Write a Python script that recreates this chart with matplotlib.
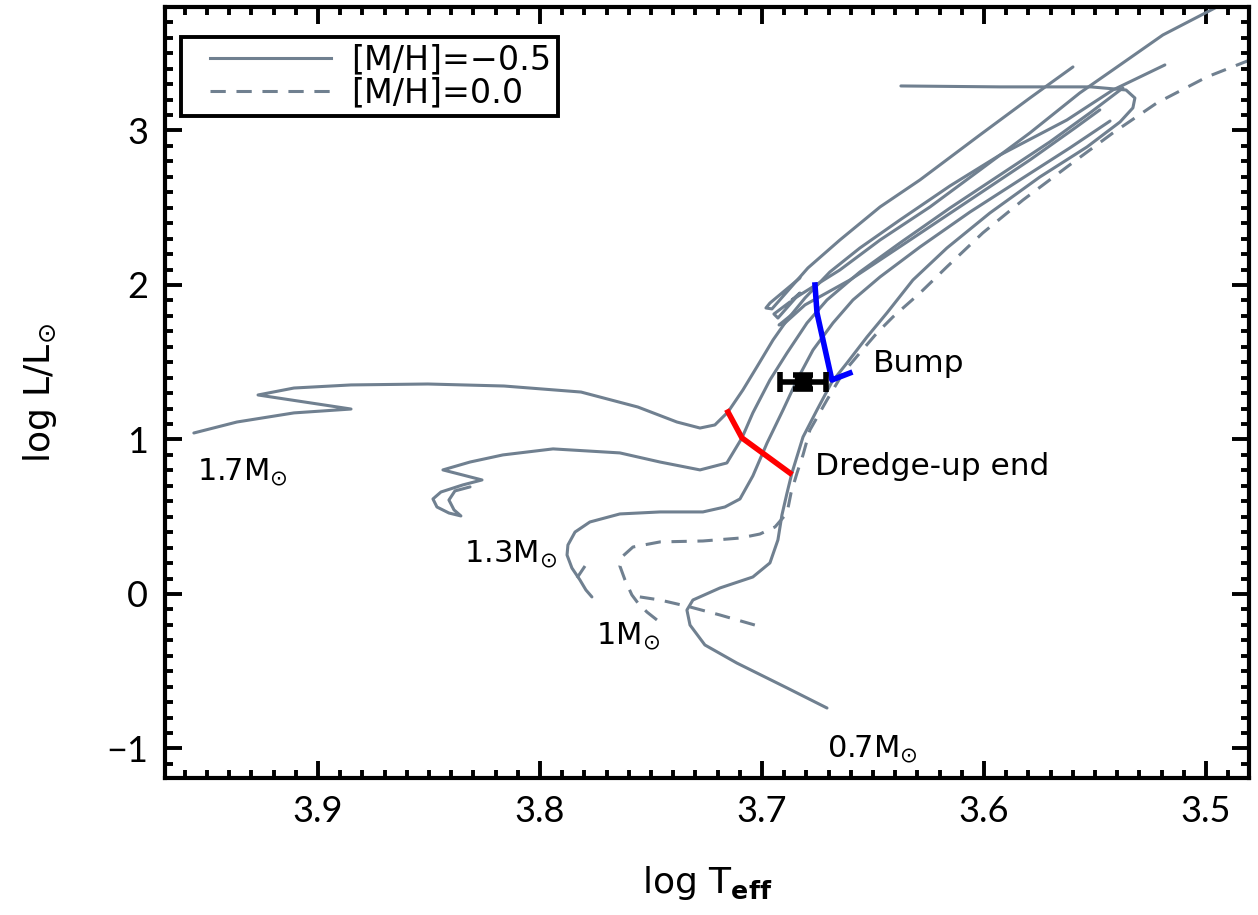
import matplotlib
matplotlib.use('Agg')
import numpy as np
import matplotlib.pyplot as plt
from matplotlib.ticker import MultipleLocator
from matplotlib.lines import Line2D
from matplotlib.legend_handler import HandlerLine2D

plt.rcParams['font.family'] = ['DejaVu Sans']
plt.rcParams['mathtext.fontset'] = 'dejavusans'

# ── tracks, [M/H] = -0.5 (solid) ────────────────────────────────────────────
t17_T = [3.9559, 3.9365, 3.9108, 3.8851, 3.9270, 3.9108, 3.8851, 3.8505, 3.8162,
         3.7815, 3.7559, 3.7383, 3.7279, 3.7212, 3.7153, 3.7086, 3.7023, 3.6950,
         3.6887, 3.6806, 3.6694, 3.6559, 3.6378, 3.6153, 3.5928, 3.5626, 3.5419,
         3.5185]
t17_L = [1.042, 1.113, 1.172, 1.197, 1.288, 1.333, 1.353, 1.359, 1.346,
         1.307, 1.210, 1.113, 1.074, 1.094, 1.178, 1.320, 1.469, 1.644,
         1.773, 1.916, 2.084, 2.239, 2.421, 2.641, 2.841, 3.068, 3.262,
         3.424]

t13_T = [3.8315, 3.8383, 3.8410, 3.8387, 3.8356, 3.8410, 3.8464, 3.8482, 3.8446,
         3.8347, 3.8261, 3.8437, 3.8315, 3.8167, 3.7941, 3.7640, 3.7459, 3.7279,
         3.7158, 3.7090, 3.7041, 3.6964, 3.6887, 3.6797, 3.6707, 3.6559, 3.6378,
         3.6153, 3.5928, 3.5703, 3.5523, 3.5374]
t13_L = [0.693, 0.667, 0.608, 0.544, 0.505, 0.524, 0.563, 0.615, 0.660,
         0.706, 0.738, 0.803, 0.854, 0.900, 0.939, 0.913, 0.854, 0.803,
         0.848, 1.010, 1.172, 1.385, 1.560, 1.754, 1.903, 2.084, 2.272,
         2.498, 2.712, 2.926, 3.113, 3.275]

t10_T = [3.7766, 3.7793, 3.7820, 3.7856, 3.7878, 3.7874, 3.7842, 3.7775, 3.7640,
         3.7459, 3.7266, 3.7167, 3.7099, 3.7041, 3.6977, 3.6905, 3.6842, 3.6770,
         3.6680, 3.6590, 3.6468, 3.6288, 3.6063, 3.5838, 3.5613, 3.5432]
t10_L = [-0.019, 0.026, 0.091, 0.168, 0.252, 0.317, 0.401, 0.466, 0.518,
         0.531, 0.531, 0.563, 0.615, 0.764, 0.977, 1.191, 1.385, 1.579,
         1.754, 1.903, 2.052, 2.246, 2.472, 2.680, 2.887, 3.061]

t07_T = [3.6707, 3.6887, 3.7113, 3.7257, 3.7324, 3.7338, 3.7311, 3.7189, 3.7041,
         3.6964, 3.6928, 3.6910, 3.6887, 3.6865, 3.6815, 3.6752, 3.6685, 3.6617,
         3.6527, 3.6437, 3.6320, 3.6167, 3.5973, 3.5748, 3.5536, 3.5387, 3.5329,
         3.5320, 3.5360, 3.5518, 3.5928, 3.6374]
t07_L = [-0.738, -0.608, -0.447, -0.330, -0.201, -0.104, -0.039, 0.039, 0.110,
         0.201, 0.350, 0.511, 0.654, 0.783, 1.016, 1.191, 1.372, 1.495,
         1.663, 1.819, 2.032, 2.239, 2.466, 2.699, 2.893, 3.055, 3.146,
         3.210, 3.262, 3.282, 3.282, 3.288]

# core-He burning clump + AGB pieces
hbA_T = [3.6829, 3.6964, 3.6982, 3.6955, 3.6793, 3.6649, 3.6468, 3.6288, 3.6018,
         3.5793, 3.5599]
hbA_L = [2.045, 1.883, 1.851, 1.845, 2.110, 2.291, 2.505, 2.680, 2.971, 3.210, 3.411]
hbB_T = [3.6874, 3.6946, 3.6928, 3.6829, 3.6865, 3.6649, 3.6468, 3.6243, 3.6018,
         3.5793, 3.5568, 3.5419, 3.5194, 3.4959]
hbB_L = [1.890, 1.812, 1.786, 1.948, 1.903, 2.097, 2.291, 2.505, 2.744,
         2.984, 3.243, 3.392, 3.618, 3.793]
hbC_T = [3.6851, 3.6923, 3.6901, 3.6806, 3.6604, 3.6333, 3.6063, 3.5793, 3.5590,
         3.5478]
hbC_L = [1.825, 1.741, 1.748, 1.871, 2.032, 2.291, 2.550, 2.809, 3.016, 3.133]

# ── tracks, [M/H] = 0.0 (dashed) ────────────────────────────────────────────
d10_T = [3.7473, 3.7518, 3.7559, 3.7586, 3.7617, 3.7640, 3.7626, 3.7581, 3.7459,
         3.7266, 3.7099, 3.7009, 3.6941, 3.6887, 3.6869, 3.6842, 3.6815, 3.6784,
         3.6707, 3.6635, 3.6559, 3.6482, 3.6410, 3.6288, 3.6167, 3.6005, 3.5824,
         3.5626, 3.5419, 3.5221, 3.4996, 3.4802]
d10_L = [-0.168, -0.117, -0.058, -0.006, 0.091, 0.181, 0.246, 0.304, 0.337,
         0.343, 0.362, 0.388, 0.434, 0.524, 0.654, 0.783, 0.900, 1.061,
         1.256, 1.430, 1.560, 1.689, 1.793, 1.948, 2.117, 2.337, 2.550,
         2.764, 2.984, 3.178, 3.346, 3.456]
d07_T = [3.7032, 3.7189, 3.7324, 3.7459, 3.7550]
d07_L = [-0.201, -0.136, -0.084, -0.039, -0.019]
d13_T = [3.7833, 3.7797]
d13_L = [0.104, 0.181]

# ── markers ────────────────────────────────────────────────────────────────
dredge_T = [3.7153, 3.7090, 3.6874]
dredge_L = [1.178, 1.010, 0.783]
bump_T = [3.6761, 3.6752, 3.6685, 3.6604]
bump_L = [2.000, 1.819, 1.385, 1.430]

star_T, star_L = 3.6815, 1.372
star_Terr, star_Lerr = 0.0105, 0.045

mass_labels = ['1.7M$_{\\odot}$', '1.3M$_{\\odot}$', '1M$_{\\odot}$', '0.7M$_{\\odot}$']
mass_T = [3.9545, 3.8342, 3.7748, 3.6707]
mass_L = [0.738, 0.207, -0.324, -1.055]

GREY = '#708090'
LW = 2.2
DASH = (0, (5, 3.5))


class OffsetLine(HandlerLine2D):
    """legend line that starts a bit to the right of the handle box"""
    def create_artists(self, legend, orig_handle, xdescent, ydescent, width,
                       height, fontsize, trans):
        arts = super().create_artists(legend, orig_handle, xdescent, ydescent,
                                      width, height, fontsize, trans)
        for a in arts:
            xd = np.asarray(a.get_xdata(), dtype=float)
            if len(xd) >= 2:
                a.set_xdata(np.linspace(xd[0] + 16, xd[-1], len(xd)))
        return arts


fig = plt.figure(figsize=(12.58, 9.15), dpi=100)
ax = fig.add_axes([165 / 1258, 1 - 778 / 915, (1249 - 165) / 1258, (778 - 7) / 915])

for T, L in [(t17_T, t17_L), (t13_T, t13_L), (t10_T, t10_L), (t07_T, t07_L),
             (hbA_T, hbA_L), (hbB_T, hbB_L), (hbC_T, hbC_L)]:
    ax.plot(T, L, color=GREY, lw=LW, solid_capstyle='round', solid_joinstyle='round')

for T, L in [(d10_T, d10_L), (d07_T, d07_L), (d13_T, d13_L)]:
    ax.plot(T, L, color=GREY, lw=LW, ls=DASH)

ax.plot(dredge_T, dredge_L, color='red', lw=4)
ax.plot(bump_T, bump_L, color='blue', lw=4)
ax.errorbar(star_T, star_L, xerr=star_Terr, yerr=star_Lerr, fmt='s', color='black',
            ms=11, elinewidth=4, capsize=7, capthick=4)

for lab, T, L in zip(mass_labels, mass_T, mass_L):
    ax.text(T, L, lab, fontsize=22, ha='left', va='baseline')
ax.text(3.6761, 0.770, 'Dredge-up end', fontsize=22.5, ha='left', va='baseline')
ax.text(3.650, 1.437, 'Bump', fontsize=22.5, ha='left', va='baseline')

ax.set_xlim(3.9689, 3.4806)
ax.set_ylim(-1.191, 3.799)
ax.xaxis.set_major_locator(MultipleLocator(0.1))
ax.xaxis.set_minor_locator(MultipleLocator(0.01))
ax.yaxis.set_major_locator(MultipleLocator(1))
ax.yaxis.set_minor_locator(MultipleLocator(0.1))
ax.tick_params(which='both', direction='in', top=True, right=True, width=2.8,
               labelsize=26, pad=12)
ax.tick_params(which='major', length=12)
ax.tick_params(which='minor', length=6)
for lab in ax.get_xticklabels() + ax.get_yticklabels():
    lab.set_family(['Lato', 'DejaVu Sans'])
for sp in ax.spines.values():
    sp.set_linewidth(3)

ax.set_xlabel('log T$_{\\bf eff}$', fontsize=26, labelpad=26)
ax.set_ylabel('log L/L$_{\\odot}$', fontsize=26, labelpad=34)

handles = [Line2D([], [], color=GREY, lw=LW),
           Line2D([], [], color=GREY, lw=LW, ls=DASH)]
leg = ax.legend(handles, ['[M/H]=\u22120.5', '[M/H]=0.0'], loc='upper left',
                bbox_to_anchor=(0.0148, 0.961), borderaxespad=0, fontsize=24,
                handlelength=4.3, handletextpad=0.6, labelspacing=0.0,
                borderpad=0.2, fancybox=False, framealpha=1, edgecolor='black',
                handler_map={Line2D: OffsetLine()})
leg.get_frame().set_linewidth(2.8)

fig.savefig('out.png', dpi=100)
